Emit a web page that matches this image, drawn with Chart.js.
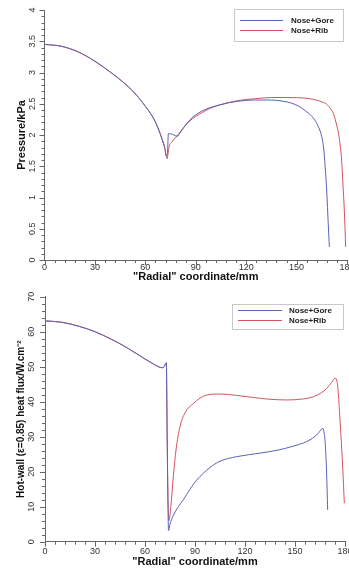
<!DOCTYPE html>
<html>
<head>
<meta charset="utf-8">
<script src="https://cdn.jsdelivr.net/npm/chart.js@4/dist/chart.umd.min.js"></script>
<style>
  html, body { margin: 0; padding: 0; background: #fff; overflow: hidden; }
  canvas { display: block; }
</style>
</head>
<body>
<canvas id="pressure" width="349" height="285"></canvas>
<canvas id="flux" width="349" height="284"></canvas>
<script>
// series labels
var seriesNames = ['Nose+Gore', 'Nose+Rib'];

// pressure, shared nose part (kPa vs radial mm)
var noseP_x = [0, 10, 20, 30, 40, 50, 55, 60, 65, 68, 70, 71.5, 72.5];
var noseP_y = [3.45, 3.42, 3.33, 3.18, 2.99, 2.77, 2.63, 2.46, 2.26, 2.08, 1.93, 1.80, 1.66];
// pressure, gore
var goreP_x = [73, 73.4, 73.7, 75, 77, 79, 81, 84, 88, 95, 104, 115, 125, 135, 142, 147, 152, 157, 160, 163, 165, 166, 167, 168, 168.8, 169.5];
var goreP_y = [1.68, 1.85, 2.02, 2.02, 2.0, 1.98, 2.05, 2.16, 2.28, 2.4, 2.48, 2.54, 2.56, 2.56, 2.54, 2.51, 2.45, 2.35, 2.27, 2.13, 1.97, 1.81, 1.5, 1.07, 0.6, 0.21];
// pressure, rib
var ribP_x = [73, 73.5, 74.2, 75.5, 78, 80.2, 84, 88, 92, 98, 104, 115, 125, 135, 145, 155, 160, 165, 167, 170, 172, 174, 175, 176, 176.8, 177.6, 178.4, 179.2];
var ribP_y = [1.62, 1.7, 1.82, 1.88, 1.96, 2.03, 2.16, 2.26, 2.33, 2.42, 2.48, 2.55, 2.58, 2.6, 2.6, 2.59, 2.57, 2.53, 2.51, 2.43, 2.34, 2.14, 2.02, 1.82, 1.6, 1.2, 0.8, 0.21];

// heat flux, shared nose part (W/cm2)
var noseQ_x = [0, 10, 20, 30, 40, 50, 60, 65, 68, 70.5, 71.5, 72.3, 72.8];
var noseQ_y = [63.1, 62.7, 61.6, 60.0, 57.8, 55.2, 52.2, 50.8, 50.0, 49.7, 50.0, 50.8, 51.1];
// heat flux, gore
var goreQ_x = [73.3, 73.8, 74.1, 75, 77, 80, 83, 87, 91, 99, 105, 115, 129, 140, 149, 155, 159, 162, 164, 166.7, 167.5, 168, 168.9, 169.6];
var goreQ_y = [30, 10, 3.2, 5, 7.5, 10, 12, 15, 17.6, 21.2, 23.0, 24.3, 25.3, 26.2, 27.3, 28.2, 29.1, 30.1, 31, 32.4, 31, 29.1, 20.5, 9.1];
// heat flux, rib
var ribQ_x = [73.3, 73.8, 74.4, 75.5, 77, 78.6, 81, 84, 89, 97, 105, 115, 125, 135, 145, 155, 161, 166, 169, 172, 174, 175, 175.8, 177, 178.6, 179.6];
var ribQ_y = [30, 12, 6, 10, 18.6, 26.2, 32.9, 36.8, 39.5, 41.9, 42.2, 41.8, 41.2, 40.7, 40.5, 40.8, 41.4, 42.6, 43.8, 45.5, 46.7, 46.2, 43.5, 34.8, 21.4, 11];

var blue = '#5b62b8';
var red = '#d4545e';
var font = '"Liberation Sans", Arial, sans-serif';

function pts(xs, ys) {
  return xs.map(function(x, i) { return {x: x, y: ys[i]}; });
}

// minor/major tick marks + boxed legend drawn on top of the plot
var frame = {
  id: 'frame',
  afterDraw: function(chart, args, o) {
    var ctx = chart.ctx;
    var a = chart.chartArea;
    var sx = chart.scales.x, sy = chart.scales.y;
    ctx.save();
    ctx.strokeStyle = '#666';
    ctx.lineWidth = 1;
    ctx.beginPath();
    sx.ticks.forEach(function(t) {
      var px = Math.round(sx.getPixelForValue(t.value)) + 0.5;
      var len = (Math.abs(t.value % 30) < 1e-6) ? 5 : 3;
      ctx.moveTo(px, a.bottom);
      ctx.lineTo(px, a.bottom + len);
    });
    sy.ticks.forEach(function(t) {
      var py = Math.round(sy.getPixelForValue(t.value)) + 0.5;
      var r = t.value / o.yMajor;
      var len = (Math.abs(r - Math.round(r)) < 1e-6) ? 5 : 3;
      ctx.moveTo(a.left, py);
      ctx.lineTo(a.left - len, py);
    });
    ctx.stroke();

    // legend
    var b = o.box;
    ctx.fillStyle = '#fff';
    ctx.fillRect(b[0], b[1], b[2] - b[0], b[3] - b[1]);
    ctx.strokeStyle = '#c8c8c8';
    ctx.strokeRect(b[0] + 0.5, b[1] + 0.5, b[2] - b[0], b[3] - b[1]);
    chart.data.datasets.forEach(function(ds, i) {
      var y = o.rows[i];
      ctx.strokeStyle = ds.borderColor;
      ctx.beginPath();
      ctx.moveTo(o.lineX[0], y + 0.5);
      ctx.lineTo(o.lineX[1], y + 0.5);
      ctx.stroke();
      ctx.fillStyle = '#222';
      ctx.font = 'bold 8px ' + font;
      ctx.textBaseline = 'middle';
      ctx.textAlign = 'left';
      ctx.fillText(ds.label, o.textX, y + 0.5);
    });
    ctx.restore();
  }
};

function makeChart(id, cfg) {
  var ctx = document.getElementById(id).getContext('2d');
  return new Chart(ctx, {
    type: 'line',
    data: {
      datasets: [{
        label: seriesNames[0],
        data: pts(cfg.nose[0].concat(cfg.gore[0]), cfg.nose[1].concat(cfg.gore[1])),
        borderColor: blue,
        borderWidth: 1,
        pointRadius: 0,
        cubicInterpolationMode: 'monotone'
      }, {
        label: seriesNames[1],
        data: pts(cfg.nose[0].concat(cfg.rib[0]), cfg.nose[1].concat(cfg.rib[1])),
        borderColor: red,
        borderWidth: 1,
        pointRadius: 0,
        cubicInterpolationMode: 'monotone'
      }]
    },
    options: {
      responsive: false,
      animation: false,
      devicePixelRatio: 1,
      layout: { padding: { top: cfg.top, right: cfg.right, left: 0, bottom: 0 } },
      plugins: {
        legend: { display: false },
        tooltip: { enabled: false },
        frame: { box: cfg.box, rows: cfg.rows, lineX: cfg.lineX, textX: cfg.textX, yMajor: cfg.yMajor }
      },
      scales: {
        x: {
          type: 'linear',
          min: 0, max: 180,
          grid: { display: false, drawTicks: false },
          border: { display: true, color: '#666', width: 1 },
          ticks: {
            stepSize: 6, autoSkip: false, maxRotation: 0, minRotation: 0,
            padding: cfg.xPad, color: '#333', font: { family: font, size: 9 },
            callback: function(v) { return (v % 30 === 0) ? String(v) : ''; }
          },
          title: {
            display: true, text: '"Radial" coordinate/mm', color: '#111',
            font: { family: font, size: 11, weight: 'bold' },
            padding: { top: 0, bottom: cfg.xTitlePad }
          },
          afterFit: function(s) { s.height = cfg.xHeight; s.paddingLeft = 0; s.paddingRight = 0; }
        },
        y: {
          type: 'linear',
          min: 0, max: cfg.yMax,
          grid: { display: false, drawTicks: false },
          border: { display: true, color: '#666', width: 1 },
          ticks: {
            stepSize: cfg.yStep, autoSkip: false, minRotation: 90, maxRotation: 90,
            crossAlign: 'center', padding: cfg.yPad, color: '#333', font: { family: font, size: 9 },
            callback: function(v) {
              var r = v / cfg.yMajor;
              if (Math.abs(r - Math.round(r)) > 1e-6) return '';
              return (Math.abs(v - Math.round(v)) < 1e-6) ? String(Math.round(v)) : v.toFixed(1);
            }
          },
          title: {
            display: true, text: cfg.yTitle, color: '#111',
            font: { family: font, size: cfg.yTitleSize, weight: 'bold' },
            padding: { top: cfg.yTitlePad, bottom: 0 }
          },
          afterFit: function(s) { s.width = cfg.yWidth; s.paddingTop = 0; s.paddingBottom = 0; }
        }
      }
    },
    plugins: [frame]
  });
}

makeChart('pressure', {
  nose: [noseP_x, noseP_y], gore: [goreP_x, goreP_y], rib: [ribP_x, ribP_y],
  top: 10, right: 2, xHeight: 25, yWidth: 44.5,
  yMax: 4, yStep: 0.1, yMajor: 0.5,
  xPad: 2, xTitlePad: 1, yPad: 6, yTitlePad: 15, yTitleSize: 11,
  yTitle: 'Pressure/kPa',
  box: [234, 9, 343, 41], rows: [20, 30], lineX: [240, 283], textX: 291
});

makeChart('flux', {
  nose: [noseQ_x, noseQ_y], gore: [goreQ_x, goreQ_y], rib: [ribQ_x, ribQ_y],
  top: 11.7, right: 4, xHeight: 27.3, yWidth: 45,
  yMax: 70, yStep: 2, yMajor: 10,
  xPad: 4, xTitlePad: 0, yPad: 8, yTitlePad: 15, yTitleSize: 10,
  yTitle: 'Hot-wall (\u03b5=0.85) heat flux/W.cm\u207b\u00b2',
  box: [232, 19, 343, 44], rows: [25, 35], lineX: [238, 282], textX: 289
});
</script>
</body>
</html>
